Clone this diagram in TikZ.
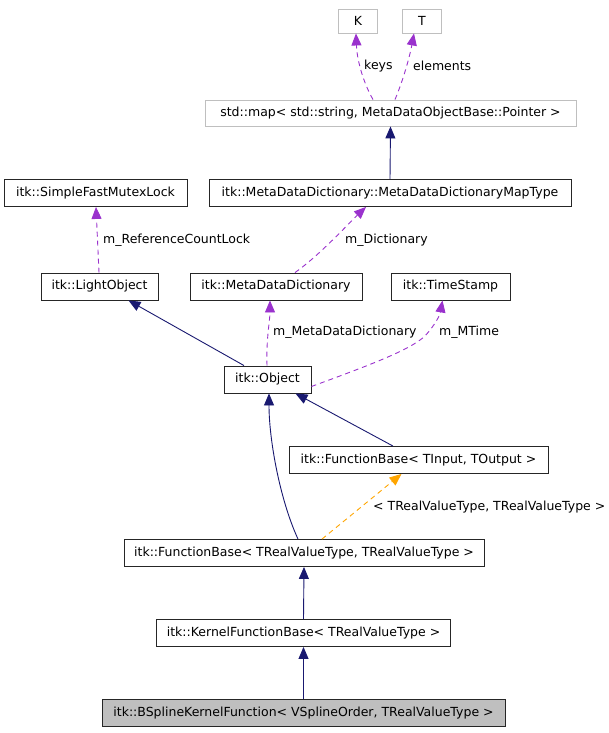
\documentclass[tikz,border=0pt]{standalone}
\usepackage{fontspec}
\setmainfont{DejaVu Sans}
\usetikzlibrary{arrows.meta}
\definecolor{navy}{HTML}{191970}
\definecolor{purp}{HTML}{9A32CD}
\definecolor{orng}{HTML}{FFA500}
\definecolor{gborder}{HTML}{BFBFBF}
\definecolor{gfill}{HTML}{BFBFBF}
\begin{document}
\begin{tikzpicture}[x=1pt,y=-1pt,
  font=\fontsize{12.5}{15}\selectfont,
  box/.style={draw=black!85,line width=0.9pt,rectangle,inner sep=0pt,minimum height=27pt},
  extbox/.style={box,draw=gborder},
  lbl/.style={anchor=west,inner sep=0pt},
  tip/.style={-{Triangle[length=12pt,width=10pt]}},
  inh/.style={draw=navy,line width=0.9pt,{Triangle[length=12pt,width=10pt]}-},
  usage/.style={draw=purp,line width=0.9pt,dash pattern=on 5pt off 4pt},
  tmpl/.style={draw=orng,line width=0.9pt,dash pattern=on 5pt off 4pt}]
\useasboundingbox (0,0) rectangle (609,733);

\node[extbox,minimum width=39pt,minimum height=24pt] (K) at (358,21) {K};
\node[extbox,minimum width=39pt,minimum height=24pt] (T) at (422,21) {T};
\node[extbox,minimum width=371pt,minimum height=26pt] (map) at (390.5,113) {std::map< std::string, MetaDataObjectBase::Pointer >};
\node[box,minimum width=362pt] (maptype) at (390,193) {itk::MetaDataDictionary::MetaDataDictionaryMapType};
\node[box,minimum width=183pt] (sfml) at (95.5,193) {itk::SimpleFastMutexLock};
\node[box,minimum width=117pt] (light) at (99.5,286.5) {itk::LightObject};
\node[box,minimum width=172pt] (mdd) at (276,286.5) {itk::MetaDataDictionary};
\node[box,minimum width=119pt] (ts) at (450.5,286.5) {itk::TimeStamp};
\node[box,minimum width=87pt] (obj) at (267.5,379.5) {itk::Object};
\node[box,minimum width=259pt] (fbio) at (418.5,460) {itk::FunctionBase< TInput, TOutput >};
\node[box,minimum width=360pt] (fbr) at (304,553) {itk::FunctionBase< TRealValueType, TRealValueType >};
\node[box,minimum width=294pt] (kfb) at (303.5,633) {itk::KernelFunctionBase< TRealValueType >};
\node[box,minimum width=403pt,fill=gfill] (bsk) at (303.5,713) {itk::BSplineKernelFunction< VSplineOrder, TRealValueType >};

% usage edges
\draw[usage,tip,purp] ([xshift=-17.5pt]map.north) .. controls (363,82) and (357,60) .. ([xshift=-2pt]K.south);
\draw[usage,tip,purp] ([xshift=4.5pt]map.north) .. controls (404,78) and (410,55) .. ([xshift=-8pt]T.south);
\node[lbl] (lkeys) at (364,66) {keys};
\node[lbl] (lelem) at (413,66) {elements};

\draw[inh] (map.south) -- (maptype.north);

\draw[usage,tip,purp] ([xshift=19pt]mdd.north) .. controls (320,255) and (350,222) .. ([xshift=-24pt]maptype.south);
\node[lbl] (ldict) at (345,240) {m\_Dictionary};

\draw[usage,tip,purp] ([xshift=-0.5pt]light.north) -- ([xshift=0.5pt]sfml.south);
\node[lbl] (lref) at (103,240) {m\_ReferenceCountLock};

\draw[inh] ([xshift=29pt]light.south) -- ([xshift=-23.5pt]obj.north);

\draw[usage,tip,purp] ([xshift=-0.5pt]obj.north) .. controls (266,340) and (270,320) .. ([xshift=-6pt]mdd.south);
\node[lbl] (lmdd) at (273,332) {m\_MetaDataDictionary};

\draw[usage,tip,purp] ([yshift=-7pt]obj.east) .. controls (370,365) and (410,350) .. (425,336) .. controls (435,325) and (440,315) .. ([xshift=-8pt]ts.south);
\node[lbl] (lmt) at (439,332) {m\_MTime};

\draw[inh] ([xshift=28pt]obj.south) -- ([xshift=-25.5pt]fbio.north);
\draw[inh] ([xshift=1.5pt]obj.south) .. controls (269,440) and (280,500) .. ([xshift=-6pt]fbr.north);

\draw[tmpl,tip,orng] ([xshift=18pt]fbr.north) -- ([xshift=-17pt]fbio.south);
\node[lbl] (ltmpl) at (373,507) {< TRealValueType, TRealValueType >};

\draw[inh] (fbr.south) -- (kfb.north);
\draw[inh] (kfb.south) -- (bsk.north);
\end{tikzpicture}
\end{document}
